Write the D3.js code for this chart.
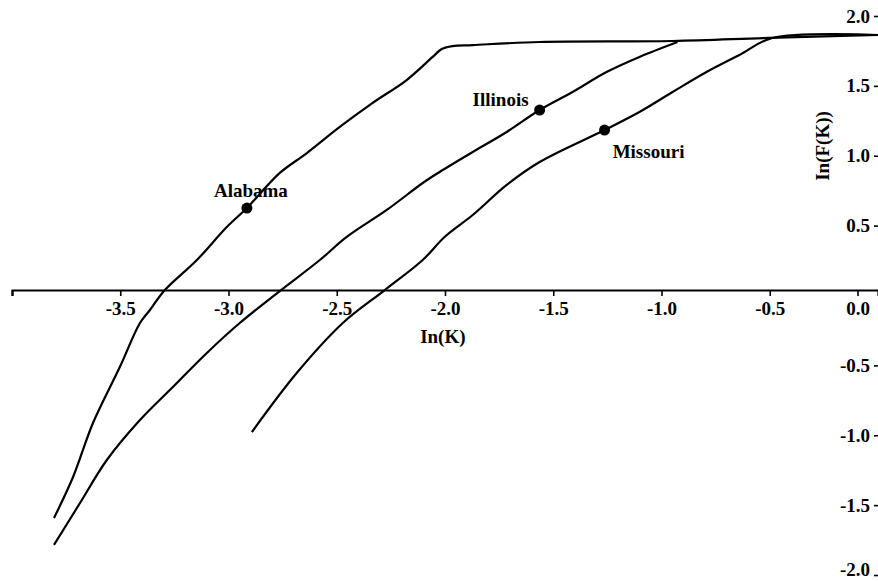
<!DOCTYPE html>
<html>
<head>
<meta charset="utf-8">
<script src="https://cdn.jsdelivr.net/npm/d3@7"></script>
<style>
  body { margin: 0; background: #fff; }
  svg text { font-family: 'Liberation Serif', 'Times New Roman', serif; font-weight: bold; fill: #000; }
</style>
</head>
<body>
<div id="chart"></div>
<script>
// values: ln(K) and ln(F(K))

var alabamaX = [-3.806, -3.718, -3.626, -3.502, -3.409, -3.363, -3.294, -3.146, -3.008, -2.915, -2.763, -2.638, -2.486, -2.334, -2.177, -2.057, -2.015, -1.965, -1.872, -1.563, -0.949, -0.502, 0.0]
var alabamaY = [-1.592, -1.299, -0.912, -0.512, -0.197, -0.104, 0.039, 0.254, 0.490, 0.626, 0.877, 1.019, 1.206, 1.378, 1.542, 1.707, 1.764, 1.785, 1.792, 1.814, 1.821, 1.843, 1.864]

var illinoisX = [-3.806, -3.686, -3.562, -3.409, -3.257, -3.100, -2.948, -2.763, -2.578, -2.454, -2.269, -2.103, -2.025, -1.872, -1.715, -1.563, -1.411, -1.254, -1.102, -0.926]
var illinoisY = [-1.785, -1.485, -1.177, -0.891, -0.655, -0.411, -0.197, 0.032, 0.254, 0.419, 0.612, 0.805, 0.884, 1.027, 1.170, 1.327, 1.456, 1.599, 1.707, 1.814]

var missouriX = [-2.892, -2.685, -2.472, -2.278, -2.103, -2.002, -1.872, -1.715, -1.563, -1.263, -1.102, -0.949, -0.792, -0.640, -0.488, 0.0]
var missouriY = [-0.977, -0.555, -0.197, 0.039, 0.254, 0.419, 0.576, 0.791, 0.955, 1.184, 1.313, 1.456, 1.599, 1.721, 1.843, 1.864]

// the marked state points
var stateNames = ['Alabama', 'Illinois', 'Missouri']
var stateX = [-2.915, -1.563, -1.263]
var stateY = [0.626, 1.327, 1.184]

var xTicks = [-4.0, -3.5, -3.0, -2.5, -2.0, -1.5, -1.0, -0.5, 0.0]
var yTicks = [2.0, 1.5, 1.0, 0.5, -0.5, -1.0, -1.5, -2.0]

// Set up margin/height/width

var margin = { top: 16, left: 12, right: 0, bottom: 6 }
var width = 878 - margin.left - margin.right
var height = 581 - margin.top - margin.bottom

var svg = d3
  .select('#chart')
  .append('svg')
  .attr('width', 878)
  .attr('height', 581)
  .append('g')
  .attr('transform', 'translate(' + margin.left + ',' + margin.top + ')')

var xPositionScale = d3.scaleLinear().domain([-4, 0]).range([0, width])
var yPositionScale = d3.scaleLinear().domain([-2, 2]).range([height, 0])

var line = d3
  .line()
  .x(d => xPositionScale(d[0]))
  .y(d => yPositionScale(d[1]))
  .curve(d3.curveCatmullRom.alpha(0.5))

var curves = [
  d3.zip(alabamaX, alabamaY),
  d3.zip(illinoisX, illinoisY),
  d3.zip(missouriX, missouriY)
]

// plain hyphen minus like the original
var fmt = d => d.toFixed(1)

// x axis (sits a little above the y = 0 label in the original)

var xAxis = d3
  .axisBottom(xPositionScale)
  .tickValues(xTicks)
  .tickSizeOuter(0)
  .tickSize(6)
  .tickPadding(6)
  .tickFormat(d => (d === -4 ? '' : fmt(d)))

var xAxisG = svg
  .append('g')
  .attr('class', 'axis x-axis')
  .attr('transform', 'translate(0,' + (yPositionScale(0) - 5.5) + ')')
  .call(xAxis)

xAxisG.select('.domain').attr('stroke-width', 2.2)
xAxisG.selectAll('.tick line').attr('stroke-width', 1.6)
xAxisG.selectAll('.tick text').attr('font-size', 19).attr('font-family', null)
xAxisG
  .selectAll('.tick')
  .filter(d => d === 0)
  .attr('transform', 'translate(' + (xPositionScale(0) - 20) + ',0)')

// y axis on the right edge, ticks only

var yAxis = d3
  .axisLeft(yPositionScale)
  .tickValues(yTicks)
  .tickSize(4)
  .tickPadding(4)
  .tickFormat(fmt)

var yAxisG = svg
  .append('g')
  .attr('class', 'axis y-axis')
  .attr('transform', 'translate(' + width + ',0)')
  .call(yAxis)

yAxisG.select('.domain').remove()
yAxisG.selectAll('.tick line').attr('stroke-width', 1.6)
yAxisG
  .selectAll('.tick text')
  .attr('font-size', 19)
  .attr('font-family', null)
  .attr('dy', d => (d === -2 ? '0.05em' : '0.32em'))

// axis titles

svg
  .append('text')
  .attr('x', xPositionScale(-2.01))
  .attr('y', yPositionScale(0) + 47)
  .attr('text-anchor', 'middle')
  .attr('font-size', 19)
  .text('In(K)')

svg
  .append('text')
  .attr('transform', 'translate(' + (xPositionScale(0) - 49) + ',' + (yPositionScale(1.07)) + ') rotate(-90)')
  .attr('text-anchor', 'middle')
  .attr('font-size', 19)
  .text('In(F(K))')

// curves

svg
  .selectAll('.curve')
  .data(curves)
  .enter()
  .append('path')
  .attr('class', 'curve')
  .attr('d', line)
  .attr('fill', 'none')
  .attr('stroke', '#000')
  .attr('stroke-width', 2.2)
  .attr('stroke-linejoin', 'round')

// state points and names

var labelOffsets = [[4, -11], [-39, -4], [44, 28]]

svg
  .selectAll('.state-dot')
  .data(stateNames)
  .enter()
  .append('circle')
  .attr('class', 'state-dot')
  .attr('cx', (d, i) => xPositionScale(stateX[i]))
  .attr('cy', (d, i) => yPositionScale(stateY[i]))
  .attr('r', 5.5)
  .attr('fill', '#000')

svg
  .selectAll('.state-label')
  .data(stateNames)
  .enter()
  .append('text')
  .attr('class', 'state-label')
  .attr('x', (d, i) => xPositionScale(stateX[i]) + labelOffsets[i][0])
  .attr('y', (d, i) => yPositionScale(stateY[i]) + labelOffsets[i][1])
  .attr('text-anchor', 'middle')
  .attr('font-size', 19)
  .text(d => d)
</script>
</body>
</html>
